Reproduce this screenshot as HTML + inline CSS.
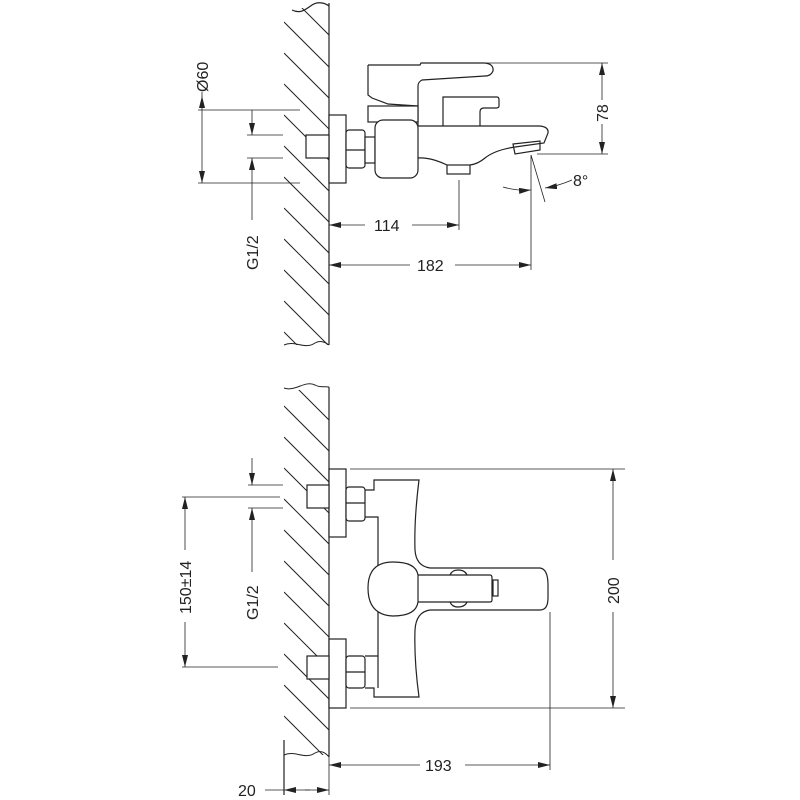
<!DOCTYPE html>
<html><head><meta charset="utf-8"><style>html,body{margin:0;padding:0;background:#fff}svg{display:block}</style></head>
<body>
<svg width="800" height="800" viewBox="0 0 800 800" xmlns="http://www.w3.org/2000/svg" font-family="Liberation Sans, sans-serif" font-size="16" fill="none" stroke="#222" stroke-width="1.2">
<defs>
<marker id="a" viewBox="0 0 12 6" refX="12" refY="3" markerWidth="12" markerHeight="6" orient="auto-start-reverse" markerUnits="userSpaceOnUse"><path d="M0,0L12,3L0,6z" fill="#222" stroke="none"/></marker>
<clipPath id="w1"><rect x="284" y="8" width="45" height="337"/></clipPath>
<clipPath id="w2"><rect x="284" y="390" width="45" height="365"/></clipPath>
</defs>
<!-- top wall -->
<path d="M329,3V345"/>
<path d="M292,10C300,14 305,10 312,5C318,1 325,3 329,6"/>
<path d="M284,345C295,340 305,350 315,343C320,340 325,342 329,345" stroke-width="1"/>
<g clip-path="url(#w1)" stroke-width="1">
<path d="M284,-10l60,60M284,22l60,60M284,53l60,60M284,84l60,60M284,115l60,60M284,146l60,60M284,177l60,60M284,208l60,60M284,239l60,60M284,270l60,60M284,301l60,60M284,332l60,60"/>
</g>
<!-- bottom wall -->
<path d="M329,387V757"/>
<path d="M284,388C295,392 305,380 315,385C320,388 325,386 329,387" stroke-width="1"/>
<path d="M284,755C295,750 305,760 315,753C320,750 325,752 329,757" stroke-width="1"/>
<path d="M284,740V795"/>
<g clip-path="url(#w2)" stroke-width="1">
<path d="M284,375l60,60M284,406l60,60M284,437l60,60M284,468l60,60M284,499l60,60M284,530l60,60M284,561l60,60M284,592l60,60M284,623l60,60M284,654l60,60M284,685l60,60M284,716l60,60"/>
</g>

<!-- TOP FAUCET -->
<rect x="329" y="115" width="17" height="68" fill="#fff"/>
<rect x="306" y="135" width="23" height="23" fill="#fff"/>
<rect x="346" y="130" width="19" height="38" rx="3" fill="#fff"/>
<path d="M346,150H365"/>
<rect x="365" y="137" width="10" height="26" fill="#fff"/>
<path d="M368,65H420L421,63H485Q494,64 493,71Q491,76 485,76L422,80Q418,82 418,86V126"/>
<path d="M368,65V95L372,98L388,104L418,106"/>
<rect x="368" y="106" width="50" height="16" fill="#fff"/>
<path d="M443,126V97H497Q499,97 499,100V106Q499,108 496,108H484Q480,108 480,112V126"/>
<path d="M418,126H540Q549,127 548,133L544,143L515,147Q495,150 485,158Q478,164 470,165"/>
<path d="M447,165Q430,157 418,158"/>
<path d="M513,144L540,141L540,150L515,154Z"/>
<rect x="447" y="165" width="23" height="9"/>
<rect x="375" y="120" width="43" height="58" rx="8" fill="#fff"/>

<!-- top dims -->
<path d="M198,110H300M198,183H300" stroke-width="0.8"/>
<path d="M202,96V183" stroke-width="0.8" marker-start="url(#a)" marker-end="url(#a)"/>
<path d="M202,92V96" stroke-width="0.8"/>
<text x="0" y="0" transform="translate(208,92) rotate(-90)" fill="#222" stroke="none">Ø60</text>
<path d="M247,135H283M247,158H283" stroke-width="0.8"/>
<path d="M252,110V135" stroke-width="0.8" marker-end="url(#a)"/>
<path d="M252,220V158" stroke-width="0.8" marker-end="url(#a)"/>
<text x="0" y="0" transform="translate(258,270) rotate(-90)" fill="#222" stroke="none">G1/2</text>
<path d="M422,63H608M537,154H608" stroke-width="0.8"/>
<path d="M602,100V63" stroke-width="0.8" marker-end="url(#a)"/>
<path d="M602,124V154" stroke-width="0.8" marker-end="url(#a)"/>
<text x="0" y="0" transform="translate(608,122) rotate(-90)" fill="#222" stroke="none">78</text>
<path d="M531,155V270M531,155L545,202" stroke-width="0.8"/>
<path d="M503,187Q517,191 531,190" stroke-width="0.8" marker-end="url(#a)"/>
<path d="M572,180Q558,186 545,188" stroke-width="0.8" marker-end="url(#a)"/>
<text x="573" y="186" fill="#222" stroke="none">8°</text>
<path d="M459,180V230" stroke-width="0.8"/>
<path d="M365,225H329" stroke-width="0.8" marker-end="url(#a)"/>
<path d="M412,225H459" stroke-width="0.8" marker-end="url(#a)"/>
<text x="374" y="231" fill="#222" stroke="none">114</text>
<path d="M410,265H329" stroke-width="0.8" marker-end="url(#a)"/>
<path d="M455,265H531" stroke-width="0.8" marker-end="url(#a)"/>
<text x="417" y="271" fill="#222" stroke="none">182</text>

<!-- BOTTOM FAUCET -->
<rect x="329" y="469" width="17" height="68" fill="#fff"/>
<rect x="307" y="485" width="22" height="23" fill="#fff"/>
<rect x="346" y="487" width="19" height="34" rx="3" fill="#fff"/>
<path d="M346,503H365"/>
<rect x="329" y="639" width="17" height="69" fill="#fff"/>
<rect x="307" y="656" width="22" height="23" fill="#fff"/>
<rect x="346" y="656" width="19" height="32" rx="3" fill="#fff"/>
<path d="M346,672H365"/>
<path d="M365,490H374V480H419Q414,520 415,550Q416,566 430,568H540Q548,569 548,585V598Q548,610 540,610H430Q416,612 415,630Q414,660 419,697H374V688H365"/>
<path d="M365,517H378V688M365,656H378"/>
<path d="M418,575Q416,562 393,562Q368,562 368,588Q368,615 393,616Q416,616 418,602Z" fill="#fff"/>
<path d="M450,575Q452,570 458,570Q465,570 467,575M450,602Q452,607 458,607Q465,607 467,602"/>
<path d="M418,575H490Q492,575 492,578V600Q492,602 490,602H418"/>
<rect x="493" y="580" width="5" height="16"/>

<!-- bottom dims -->
<path d="M350,469H625M350,708H625" stroke-width="0.8"/>
<path d="M613,560V469" stroke-width="0.8" marker-end="url(#a)"/>
<path d="M613,612V708" stroke-width="0.8" marker-end="url(#a)"/>
<text x="0" y="0" transform="translate(619,604) rotate(-90)" fill="#222" stroke="none">200</text>
<path d="M182,497H280M182,667H278" stroke-width="0.8"/>
<path d="M185,550V497" stroke-width="0.8" marker-end="url(#a)"/>
<path d="M185,622V667" stroke-width="0.8" marker-end="url(#a)"/>
<text x="0" y="0" transform="translate(191,614) rotate(-90)" fill="#222" stroke="none">150±14</text>
<path d="M248,485H283M248,508H283" stroke-width="0.8"/>
<path d="M252,458V485" stroke-width="0.8" marker-end="url(#a)"/>
<path d="M252,572V508" stroke-width="0.8" marker-end="url(#a)"/>
<text x="0" y="0" transform="translate(258,620) rotate(-90)" fill="#222" stroke="none">G1/2</text>
<path d="M550,612V770M329,757V795" stroke-width="0.8"/>
<path d="M420,765H329" stroke-width="0.8" marker-end="url(#a)"/>
<path d="M465,765H550" stroke-width="0.8" marker-end="url(#a)"/>
<text x="425" y="771" fill="#222" stroke="none">193</text>
<path d="M265,790H284" stroke-width="0.8"/>
<path d="M310,790H284" stroke-width="0.8" marker-end="url(#a)"/>
<path d="M305,790H329" stroke-width="0.8" marker-end="url(#a)"/>
<text x="238" y="796" fill="#222" stroke="none">20</text>
</svg>
</body></html>
